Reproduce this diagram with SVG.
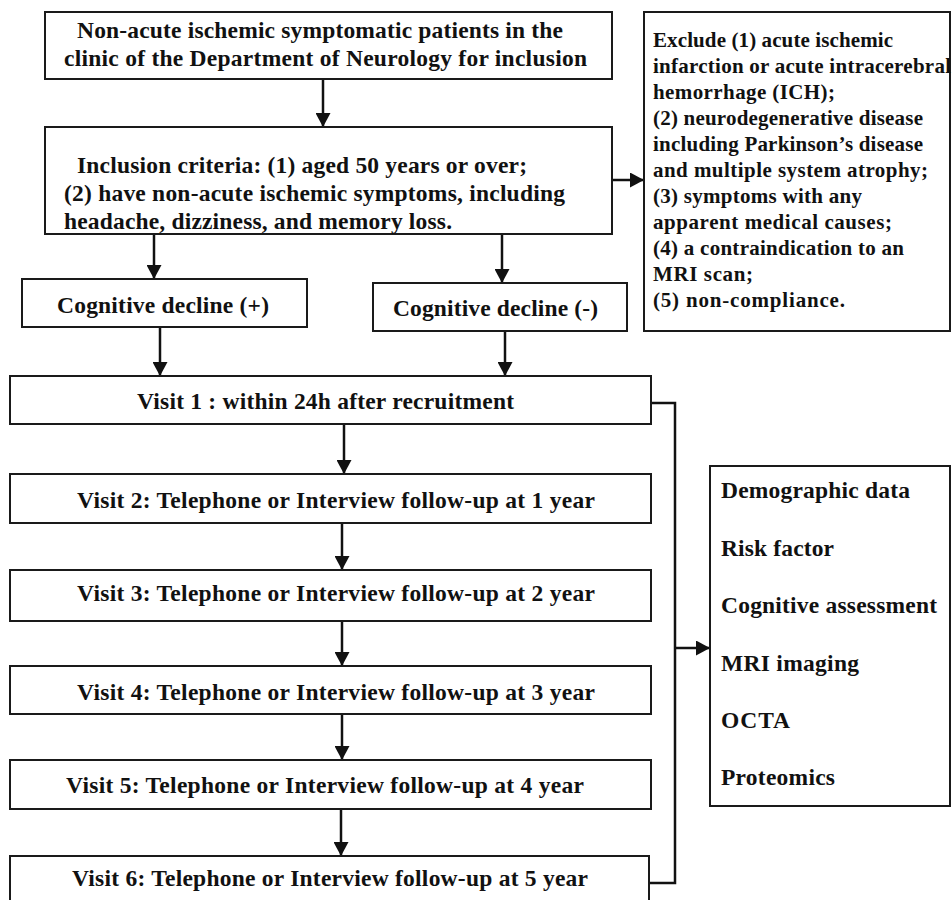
<svg xmlns="http://www.w3.org/2000/svg" width="952" height="900" viewBox="0 0 952 900">
<defs>
<style>
.box{fill:#fff;stroke:#1a1a1a;stroke-width:2}
.t{font-family:"Liberation Serif","Times New Roman",serif;font-weight:bold;fill:#111;font-size:23.5px}
.s{font-size:21px}
.m{font-size:23.5px}
.c{fill:none;stroke:#111;stroke-width:2.5}
</style>
<marker id="ah" markerUnits="userSpaceOnUse" markerWidth="15" markerHeight="15" refX="14" refY="7.5" orient="auto">
<path d="M0,0 L14,7.5 L0,15 z" fill="#111"/>
</marker>
</defs>
<rect width="952" height="900" fill="#fff"/>

<g id="connectors">
<line class="c" x1="323" y1="79" x2="323" y2="127" marker-end="url(#ah)"/>
<line class="c" x1="612" y1="180" x2="644" y2="180" marker-end="url(#ah)"/>
<line class="c" x1="154" y1="234" x2="154" y2="279" marker-end="url(#ah)"/>
<line class="c" x1="502" y1="234" x2="502" y2="283" marker-end="url(#ah)"/>
<line class="c" x1="160" y1="327" x2="160" y2="376" marker-end="url(#ah)"/>
<line class="c" x1="505" y1="331" x2="505" y2="376" marker-end="url(#ah)"/>
<line class="c" x1="344" y1="424" x2="344" y2="474" marker-end="url(#ah)"/>
<line class="c" x1="342" y1="523" x2="342" y2="570" marker-end="url(#ah)"/>
<line class="c" x1="342" y1="621" x2="342" y2="666" marker-end="url(#ah)"/>
<line class="c" x1="342" y1="714" x2="342" y2="760" marker-end="url(#ah)"/>
<line class="c" x1="341" y1="809" x2="341" y2="856" marker-end="url(#ah)"/>
<polyline class="c" points="651,403 675,403 675,883 649,883"/>
<line class="c" x1="675" y1="648" x2="710" y2="648" marker-end="url(#ah)"/>
</g>

<g id="start">
<rect class="box" x="45" y="12" width="567" height="67"/>
<text class="t" x="77" y="38" textLength="486">Non-acute ischemic symptomatic patients in the</text>
<text class="t" x="64" y="66" textLength="523">clinic of the Department of Neurology for inclusion</text>
</g>

<g id="inclusion">
<rect class="box" x="45" y="127" width="567" height="107"/>
<text class="t" x="77" y="173" textLength="450">Inclusion criteria: (1) aged 50 years or over;</text>
<text class="t" x="64" y="201" textLength="501">(2) have non-acute ischemic symptoms, including</text>
<text class="t" x="64" y="229" textLength="388">headache, dizziness, and memory loss.</text>
</g>

<g id="exclusion">
<rect class="box" x="644" y="12" width="306" height="319"/>
<text class="t s" x="653" y="47" textLength="240">Exclude (1) acute ischemic</text>
<text class="t s" x="653" y="73" textLength="298">infarction or acute intracerebral</text>
<text class="t s" x="653" y="99" textLength="182">hemorrhage (ICH);</text>
<text class="t s" x="653" y="125" textLength="270">(2) neurodegenerative disease</text>
<text class="t s" x="653" y="151" textLength="270">including Parkinson’s disease</text>
<text class="t s" x="653" y="177" textLength="275">and multiple system atrophy;</text>
<text class="t s" x="653" y="203" textLength="209">(3) symptoms with any</text>
<text class="t s" x="653" y="229" textLength="239">apparent medical causes;</text>
<text class="t s" x="653" y="255" textLength="251">(4) a contraindication to an</text>
<text class="t s" x="653" y="281" textLength="100">MRI scan;</text>
<text class="t s" x="653" y="307" textLength="192">(5) non-compliance.</text>
</g>

<g id="cog-pos">
<rect class="box" x="22" y="279" width="285" height="48"/>
<text class="t" x="57" y="313" textLength="212">Cognitive decline (+)</text>
</g>

<g id="cog-neg">
<rect class="box" x="373" y="283" width="254" height="48"/>
<text class="t" x="393" y="316" textLength="205">Cognitive decline (-)</text>
</g>

<g id="visit1">
<rect class="box" x="10" y="376" width="641" height="48"/>
<text class="t" x="137" y="409" textLength="377">Visit 1 : within 24h after recruitment</text>
</g>
<g id="visit2">
<rect class="box" x="10" y="474" width="641" height="49"/>
<text class="t" x="77" y="508" textLength="518">Visit 2: Telephone or Interview follow-up at 1 year</text>
</g>
<g id="visit3">
<rect class="box" x="10" y="570" width="641" height="51"/>
<text class="t" x="77" y="601" textLength="518">Visit 3: Telephone or Interview follow-up at 2 year</text>
</g>
<g id="visit4">
<rect class="box" x="10" y="666" width="641" height="48"/>
<text class="t" x="77" y="700" textLength="518">Visit 4: Telephone or Interview follow-up at 3 year</text>
</g>
<g id="visit5">
<rect class="box" x="10" y="760" width="641" height="49"/>
<text class="t" x="66" y="793" textLength="518">Visit 5: Telephone or Interview follow-up at 4 year</text>
</g>
<g id="visit6">
<rect class="box" x="10" y="856" width="639" height="52"/>
<text class="t" x="72" y="886" textLength="516">Visit 6: Telephone or Interview follow-up at 5 year</text>
</g>

<g id="measures">
<rect class="box" x="710" y="466" width="240" height="340"/>
<text class="t m" x="721" y="498" textLength="189">Demographic data</text>
<text class="t m" x="721" y="556" textLength="113">Risk factor</text>
<text class="t m" x="721" y="613" textLength="216">Cognitive assessment</text>
<text class="t m" x="721" y="671" textLength="138">MRI imaging</text>
<text class="t m" x="721" y="728" textLength="69">OCTA</text>
<text class="t m" x="721" y="785" textLength="114">Proteomics</text>
</g>
</svg>
